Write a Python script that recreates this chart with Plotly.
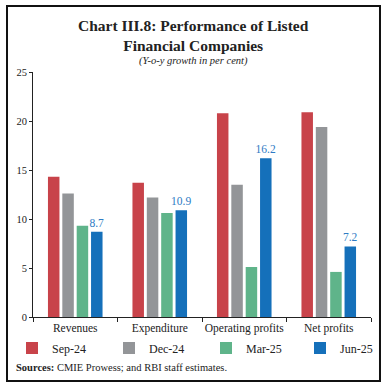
import plotly.graph_objects as go

categories = ["Revenues", "Expenditure", "Operating profits", "Net profits"]
sep24 = [14.3, 13.7, 20.8, 20.9]
dec24 = [12.6, 12.2, 13.5, 19.4]
mar25 = [9.3, 10.6, 5.1, 4.6]
jun25 = [8.7, 10.9, 16.2, 7.2]
series_names = ["Sep-24", "Dec-24", "Mar-25", "Jun-25"]
colors = ["#C8434A", "#939598", "#5FB48A", "#1570BA"]

SERIF = "Liberation Serif"
legend_ids = ["legend", "legend2", "legend3", "legend4"]
legend_px = [12, 109, 206, 300]

fig = go.Figure()
for name, vals, col, lid in zip(series_names, [sep24, dec24, mar25, jun25], colors, legend_ids):
    kw = {}
    if name == "Jun-25":
        kw = dict(text=[f"{v:.1f}" for v in vals], textposition="outside",
                  textfont=dict(color="#2E7BC4", size=11.5, family=SERIF),
                  constraintext="none", cliponaxis=False)
    fig.add_trace(go.Bar(x=categories, y=vals, name=name, marker_color=col,
                         marker_line_width=0, legend=lid, **kw))

layout_legends = {}
for lid, px in zip(legend_ids, legend_px):
    layout_legends[lid] = dict(orientation="h", xref="container", yref="container",
                               x=px / 388, y=1 - 348 / 389, xanchor="left", yanchor="middle",
                               font=dict(family=SERIF, size=12, color="#222"),
                               itemwidth=30, bgcolor="rgba(0,0,0,0)")

fig.update_layout(
    width=388, height=389,
    margin=dict(l=33, r=17, t=72, b=72),
    paper_bgcolor="white", plot_bgcolor="white",
    barmode="group", bargap=0.32, bargroupgap=0.2,
    font=dict(family=SERIF, size=11, color="#222"),
    showlegend=True,
    xaxis=dict(showline=True, linecolor="#222", linewidth=1, automargin=False,
               tickangle=0,
               ticks="outside", ticklen=4, tickcolor="#222", tickson="boundaries",
               tickfont=dict(family=SERIF, size=11.5, color="#222"),
               showgrid=False),
    yaxis=dict(range=[0, 25], dtick=5, showline=True, linecolor="#222", linewidth=1,
               automargin=False,
               ticks="outside", ticklen=3, tickcolor="#222",
               tickfont=dict(family=SERIF, size=10.5, color="#222"),
               showgrid=False, zeroline=False),
    **layout_legends,
)

fig.add_shape(type="rect", xref="paper", yref="paper",
              x0=-0.0769, x1=1.0266, y0=-0.261, y1=1.269,
              line=dict(color="#111", width=2), fillcolor="rgba(0,0,0,0)")

fig.add_annotation(xref="paper", yref="paper", x=0.476, y=1.151,
                   text="<b>Chart III.8: Performance of Listed<br>Financial Companies</b>",
                   showarrow=False, xanchor="center", yanchor="middle",
                   font=dict(family=SERIF, size=15.5, color="#222"))
fig.add_annotation(xref="paper", yref="paper", x=0.476, y=1.045,
                   text="<i>(Y-o-y growth in per cent)</i>",
                   showarrow=False, xanchor="center", yanchor="middle",
                   font=dict(family=SERIF, size=10.5, color="#222"))
fig.add_annotation(xref="paper", yref="paper", x=-0.055, y=-0.205,
                   text="<b>Sources:</b> CMIE Prowess; and RBI staff estimates.",
                   showarrow=False, xanchor="left", yanchor="middle",
                   font=dict(family=SERIF, size=10.5, color="#222"))

fig.write_html("out.html", config={"displayModeBar": False},
               post_script="document.body.style.margin='0';")
